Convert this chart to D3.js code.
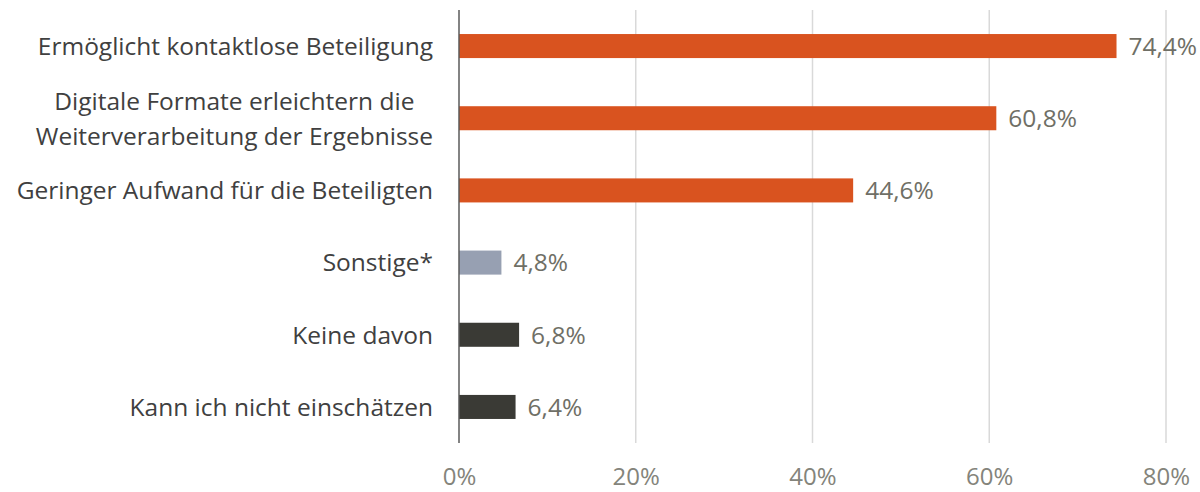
<!DOCTYPE html>
<html>
<head>
<meta charset="utf-8">
<script src="https://cdn.jsdelivr.net/npm/d3@7"></script>
<style>
  html, body { margin: 0; padding: 0; background: #fff; }
  svg { display: block; }
</style>
</head>
<body>
<svg id="chart" width="1200" height="492"></svg>
<script>
// Categories (lines of each label), values in percent, colour group per bar
const categories = [
  ["Ermöglicht kontaktlose Beteiligung"],
  ["Digitale Formate erleichtern die", "Weiterverarbeitung der Ergebnisse"],
  ["Geringer Aufwand für die Beteiligten"],
  ["Sonstige*"],
  ["Keine davon"],
  ["Kann ich nicht einschätzen"]
];
const values = [74.4, 60.8, 44.6, 4.8, 6.8, 6.4];
const groups = ["main", "main", "main", "other", "none", "none"];
const tickValues = [0, 20, 40, 60, 80];

const colors = { main: "#D9531F", other: "#97A0B2", none: "#3A3A35" };

const width = 1200, height = 492;
const margin = { top: 10, right: 34, bottom: 48, left: 459 };
const font = "'Open Sans', sans-serif";

const svg = d3.select("#chart");

const x = d3.scaleLinear()
  .domain([0, 80])
  .range([margin.left, 1166]);

const y = d3.scaleBand()
  .domain(d3.range(categories.length))
  .range([margin.top, height - margin.bottom - 1])
  .paddingInner(0.667)
  .paddingOuter(0.333);

// Vertical gridlines
svg.append("g")
  .selectAll("line")
  .data(tickValues.filter(d => d > 0))
  .join("line")
  .attr("x1", d => x(d)).attr("x2", d => x(d))
  .attr("y1", margin.top).attr("y2", height - margin.bottom - 1)
  .attr("stroke", "#d9d9d9")
  .attr("stroke-width", 1.5);

// Bars
svg.append("g")
  .selectAll("rect")
  .data(values)
  .join("rect")
  .attr("x", x(0))
  .attr("y", (d, i) => y(i))
  .attr("width", d => x(d) - x(0))
  .attr("height", y.bandwidth())
  .attr("fill", (d, i) => colors[groups[i]]);

// Category axis line
svg.append("line")
  .attr("x1", x(0)).attr("x2", x(0))
  .attr("y1", margin.top).attr("y2", height - margin.bottom - 1)
  .attr("stroke", "#5a5a5a")
  .attr("stroke-width", 1.5);

// Value labels
svg.append("g")
  .selectAll("text")
  .data(values)
  .join("text")
  .attr("x", d => x(d) + 12)
  .attr("y", (d, i) => y(i) + y.bandwidth() / 2)
  .attr("dy", "0.36em")
  .attr("font-family", font)
  .attr("font-size", 24.5)
  .attr("fill", "#6f6f66")
  .text(d => d.toFixed(1).replace(".", ",") + "%");

// Category labels (multi-line labels are centred within a right-aligned block)
const labelRight = x(0) - 26;
const lineGap = 35;
const catG = svg.append("g")
  .attr("font-family", font)
  .attr("font-size", 24.5)
  .attr("fill", "#404040");

categories.forEach((lines, i) => {
  const cy = y(i) + y.bandwidth() / 2;
  const t = catG.append("text").attr("text-anchor", "middle");
  const spans = lines.map((line, j) =>
    t.append("tspan")
      .attr("y", cy + (j - (lines.length - 1) / 2) * lineGap)
      .attr("dy", "0.36em")
      .text(line)
  );
  const widths = spans.map(s => s.node().getComputedTextLength());
  const blockW = d3.max(widths);
  spans.forEach(s => s.attr("x", labelRight - blockW / 2));
});

// X axis tick labels
const xAxis = d3.axisBottom(x)
  .tickValues(tickValues)
  .tickSize(0)
  .tickFormat(d => d + "%");

const axisG = svg.append("g")
  .attr("transform", `translate(0,${height - margin.bottom - 1})`)
  .call(xAxis);
axisG.select(".domain").remove();
axisG.selectAll("text")
  .attr("font-family", font)
  .attr("font-size", 24)
  .attr("fill", "#84847b")
  .attr("dy", null)
  .attr("y", 36)
  .attr("dominant-baseline", "middle");
</script>
</body>
</html>
